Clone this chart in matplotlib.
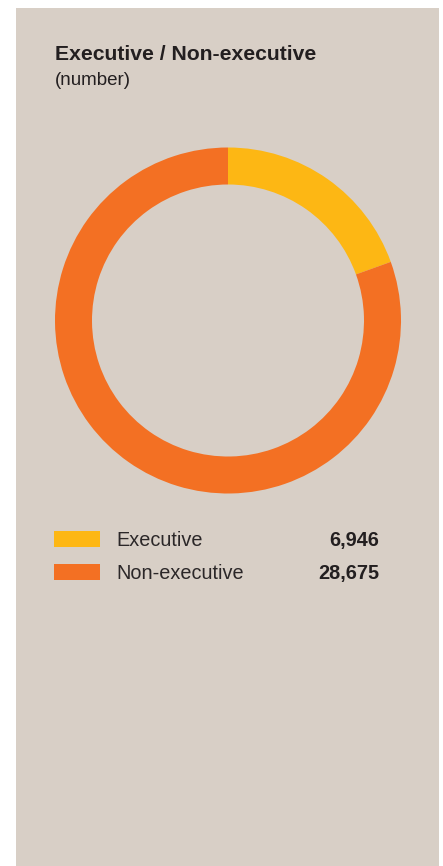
import matplotlib.pyplot as plt
from matplotlib.patches import Rectangle

plt.rcParams['font.family'] = ['Liberation Sans', 'DejaVu Sans']

categories = ['Executive', 'Non-executive']
values = [6946, 28675]
colors = ['#FDB714', '#F37023']
panel_color = '#D8CFC6'

W, H = 443, 866
fig = plt.figure(figsize=(W / 100, H / 100), dpi=100)
fig.patch.set_facecolor('white')

def fx(px):
    return px / W

def fy(py):
    return 1 - py / H

# beige panel behind everything
fig.patches.append(Rectangle((fx(16), fy(866)), fx(439) - fx(16), fy(8) - fy(866),
                             transform=fig.transFigure, facecolor=panel_color,
                             edgecolor='none', zorder=-5))

fig.text(fx(55), fy(60), 'Executive / Non-executive', fontsize=15.2,
         fontweight='bold', color='#231F20', va='baseline', ha='left')
fig.text(fx(55), fy(85), '(number)', fontsize=13.5, color='#231F20',
         va='baseline', ha='left')

# donut
ax = fig.add_axes([fx(55), fy(494), fx(401) - fx(55), fy(147) - fy(494)])
ax.set_zorder(2)
ax.pie(values, colors=colors, startangle=90, counterclock=False, radius=1,
       wedgeprops=dict(width=37 / 173, edgecolor='none', linewidth=0))
ax.set_xlim(-1, 1)
ax.set_ylim(-1, 1)
ax.set_aspect('equal')
ax.axis('off')

# legend rows with values
row_y = [539, 572]
for cat, val, col, y in zip(categories, values, colors, row_y):
    fig.patches.append(Rectangle((fx(54), fy(y + 8)), fx(100) - fx(54), fy(y - 8) - fy(y + 8),
                                 transform=fig.transFigure, facecolor=col,
                                 edgecolor='none', zorder=1))
    fig.text(fx(116), fy(y + 7), cat, fontsize=14.3, color='#2B2728',
             va='baseline', ha='left')
    fig.text(fx(379), fy(y + 7), f'{val:,}', fontsize=14.3, fontweight='bold',
             color='#231F20', va='baseline', ha='right')

fig.savefig('out.png', dpi=100, facecolor=fig.get_facecolor())
